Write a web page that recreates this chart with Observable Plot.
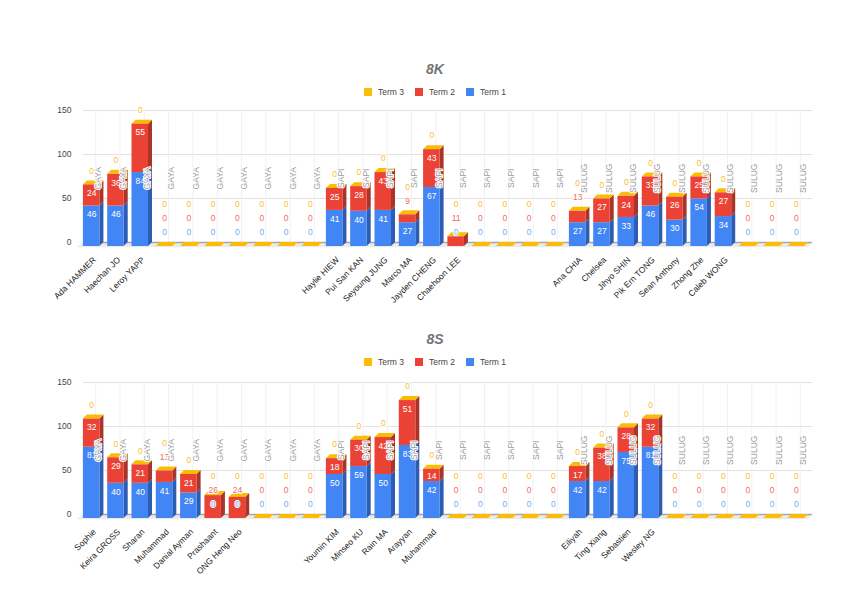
<!DOCTYPE html>
<html><head><meta charset="utf-8">
<script src="https://cdn.jsdelivr.net/npm/d3@7"></script>
<script src="https://cdn.jsdelivr.net/npm/@observablehq/plot@0.6"></script>
<style>
body{margin:0;background:#fff;font-family:Arial,"Liberation Sans",sans-serif;}
#root{position:relative;width:841px;height:592px;overflow:hidden;background:#fff;}
.title{position:absolute;left:435px;transform:translate(-50%,-50%);font-weight:bold;font-style:italic;font-size:14px;color:#757575;white-space:nowrap;}
.legend{position:absolute;left:435px;transform:translate(-50%,-50%);display:flex;align-items:center;font-size:8.5px;color:#444;white-space:nowrap;}
.legend .sw{width:8px;height:8px;margin-right:6px;}
.legend .item{display:flex;align-items:center;margin-right:11px;}
.legend .item:last-child{margin-right:0;}
.chart{position:absolute;left:0;}
</style></head>
<body><div id="root"></div>
<script>
// ---- legend / series ----
const legendTerms = ["Term 3", "Term 2", "Term 1"];
const legendColors = ["#fbbc04", "#ea4335", "#4285f4"];
const faceColors = ["#4285f4", "#ea4335", "#fbbc04"];      // Term 1, Term 2, Term 3
const sideColors = ["#2d5db3", "#a8342a", "#b38600"];
const outLabelColors = ["#7baaf7", "#ef6b60", "#fbc02d"];
const yTicks = [0, 50, 100, 150];

// ---- 8K ----
const names8K = ["Ada HAMMER","Haechan JO","Leroy YAPP","","","","","","","",
  "Haylie HIEW","Pui San KAN","Seyoung JUNG","Marco MA","Jayden CHENG","Chaehoon LEE","","","","",
  "Ana CHIA","Chelsea","Jihyo SHIN","Pik Ern TONG","Sean Anthony","Zhong Zhe","Caleb WONG","","",""];
const houses8K = ["GAYA","GAYA","GAYA","GAYA","GAYA","GAYA","GAYA","GAYA","GAYA","GAYA",
  "SAPI","SAPI","SAPI","SAPI","SAPI","SAPI","SAPI","SAPI","SAPI","SAPI",
  "SULUG","SULUG","SULUG","SULUG","SULUG","SULUG","SULUG","SULUG","SULUG","SULUG"];
const term1_8K = [46,46,84,0,0,0,0,0,0,0, 41,40,41,27,67,0,0,0,0,0, 27,27,33,46,30,54,34,0,0,0];
const term2_8K = [24,36,55,0,0,0,0,0,0,0, 25,28,43,9,43,11,0,0,0,0, 13,27,24,33,26,25,27,0,0,0];
const term3_8K = [0,0,0,0,0,0,0,0,0,0, 0,0,0,0,0,0,0,0,0,0, 0,0,0,0,0,0,0,0,0,0];

// ---- 8S ----
const names8S = ["Sophie","Keira GROSS","Sharan","Muhammad","Danial Ayman","Prashaant","ONG Heng Neo","","","",
  "Youmin KIM","Minseo KU","Rain MA","Arayyan","Muhammad","","","","","",
  "Eiliyah","Ting Xiang","Sebastien","Wesley NG","","","","","",""];
const houses8S = houses8K.slice();
const term1_8S = [81,40,40,41,29,0,0,0,0,0, 50,59,50,83,42,0,0,0,0,0, 42,42,75,81,0,0,0,0,0,0];
const term2_8S = [32,29,21,13,21,26,24,0,0,0, 18,30,42,51,14,0,0,0,0,0, 17,38,28,32,0,0,0,0,0,0];
const term3_8S = [0,0,0,0,0,0,0,0,0,0, 0,0,0,0,0,0,0,0,0,0, 0,0,0,0,0,0,0,0,0,0];

const root = document.getElementById("root");

function panel({title, names, houses, t1, t2, t3, titleY, legendY, svgTop}) {
  const W = 841, mL = 83, mR = 29, mT = 10, mB = 60, H = 202;
  const n = names.length;
  const plotW = W - mL - mR, plotH = H - mT - mB;
  const kx = plotW / n, ky = plotH / 150;
  const depth = 4;
  const dX = depth / kx, dY = depth / ky;
  const half = 0.34;

  const segs = [], sides = [], tops = [], inLabels = [], outLabels = [];
  for (let i = 0; i < n; i++) {
    const vals = [t1[i], t2[i], t3[i]];
    let base = 0, prev = Infinity;
    for (let s = 0; s < 3; s++) {
      const v = vals[s];
      const top = base + v;
      if (v > 0) {
        const id = i + "-" + s;
        segs.push({i, s, lo: base, hi: top, fill: faceColors[s]});
        sides.push({id, x: i + half - dX, lo: base - dY, hi: top - dY, fill: sideColors[s]});
        sides.push({id, x: i + half, lo: base, hi: top, fill: sideColors[s]});
      }
      // label layout in pixels (downward positive, relative to baseline)
      const frontTop = -top * ky + depth;
      let inside = v * ky >= 12;
      let pos = inside ? (-top * ky + 12.5) : (-top * ky - 10);
      if (pos > prev - 14) {
        pos = prev - 14;
        if (pos < frontTop + 4) inside = false;
      }
      prev = pos;
      const lab = {i, y: -pos / ky, text: String(v), fill: outLabelColors[s]};
      (inside ? inLabels : outLabels).push(lab);
      base = top;
    }
    tops.push({id: i, y: base - dY, x1: i - half - dX, x2: i + half - dX});
    tops.push({id: i, y: base, x1: i - half, x2: i + half});
  }
  const floor = [
    {y: -dY - 1.5, x1: -0.5 - dX - 0.1, x2: n - 0.5 - dX},
    {y: 0, x1: -0.5, x2: n - 0.5}
  ];
  const idx = d3.range(n);
  const named = idx.filter(i => names[i] !== "");

  const t = document.createElement("div");
  t.className = "title"; t.style.top = titleY + "px"; t.textContent = title;
  root.appendChild(t);
  const lg = document.createElement("div");
  lg.className = "legend"; lg.style.top = legendY + "px";
  legendTerms.forEach((name, k) => {
    const it = document.createElement("div"); it.className = "item";
    const sw = document.createElement("div"); sw.className = "sw"; sw.style.background = legendColors[k];
    const tx = document.createElement("span"); tx.textContent = name;
    it.appendChild(sw); it.appendChild(tx); lg.appendChild(it);
  });
  root.appendChild(lg);

  const chart = Plot.plot({
    width: W, height: H, marginLeft: mL, marginRight: mR, marginTop: mT, marginBottom: mB,
    style: {fontFamily: "Arial, 'Liberation Sans', sans-serif", fontSize: "8.5px", color: "#444", background: "transparent", overflow: "visible"},
    x: {type: "linear", domain: [-0.5, n - 0.5], axis: null},
    y: {domain: [0, 150]},
    color: {type: "identity"},
    marks: [
      Plot.areaX(floor, {y: "y", x1: "x1", x2: "x2", fill: "#ebebeb"}),
      Plot.ruleY([50, 100, 150], {stroke: "#e2e2e2", strokeWidth: 1}),
      Plot.ruleX(idx, {x: d => d, y1: 0, y2: 150, stroke: "#f1f1f1", strokeWidth: 1}),
      Plot.ruleY([0], {stroke: "#a6a6a6", strokeWidth: 1.5}),
      Plot.areaY(sides, {x: "x", y1: "lo", y2: "hi", z: "id", fill: "fill"}),
      Plot.areaX(tops, {y: "y", x1: "x1", x2: "x2", z: "id", fill: "#fbbc04"}),
      Plot.rect(segs, {x1: d => d.i - half, x2: d => d.i + half, y1: "lo", y2: "hi", fill: "fill", dx: -depth, dy: depth}),
      Plot.text(inLabels, {x: "i", y: "y", text: "text", fill: "white", dx: -depth, fontSize: 8.5}),
      Plot.text(outLabels, {x: "i", y: "y", text: "text", fill: "fill", stroke: "white", strokeWidth: 2, dx: -depth, fontSize: 8.5}),
      Plot.text(idx, {x: d => d, y: 73, text: d => houses[d], rotate: -90, dx: 3, fill: "#9a9a9a", stroke: "white", strokeWidth: 2, fontSize: 8.5}),
      Plot.text(named, {x: d => d, y: 0, text: d => names[d], rotate: -45, textAnchor: "end", dx: -1, dy: 16, fill: "#222", fontSize: 8.5}),
      Plot.axisY({ticks: yTicks, tickSize: 0, tickPadding: 12, label: null, fontSize: 8.5})
    ]
  });
  chart.classList.add("chart");
  chart.style.top = svgTop + "px";
  root.appendChild(chart);
}

panel({title: "8K", names: names8K, houses: houses8K, t1: term1_8K, t2: term2_8K, t3: term3_8K,
  titleY: 69, legendY: 91.7, svgTop: 100});
panel({title: "8S", names: names8S, houses: houses8S, t1: term1_8S, t2: term2_8S, t3: term3_8S,
  titleY: 339.3, legendY: 361.7, svgTop: 371.6});
</script>
</body></html>
